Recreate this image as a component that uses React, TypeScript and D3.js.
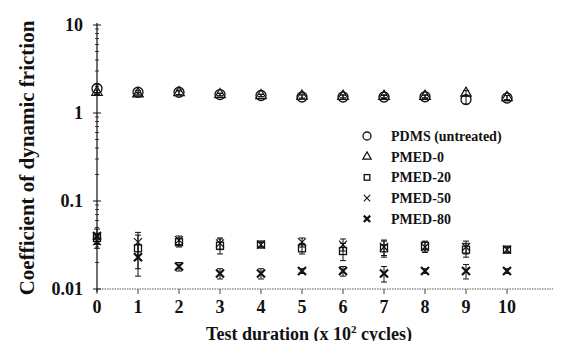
import React, { useEffect, useRef } from 'react'
import * as d3 from 'd3'

// test duration (x 10^2 cycles)
const cycles = [0, 1, 2, 3, 4, 5, 6, 7, 8, 9, 10]
const seriesNames = ['PDMS (untreated)', 'PMED-0', 'PMED-20', 'PMED-50', 'PMED-80']
const pdms = [1.9, 1.72, 1.72, 1.62, 1.58, 1.52, 1.52, 1.52, 1.53, 1.42, 1.48]
const pmed0 = [1.72, 1.65, 1.7, 1.62, 1.58, 1.56, 1.55, 1.55, 1.55, 1.68, 1.5]
const pmed20 = [0.038, 0.029, 0.034, 0.031, 0.032, 0.029, 0.027, 0.029, 0.031, 0.028, 0.028]
const pmed50 = [0.035, 0.034, 0.036, 0.033, 0.032, 0.034, 0.032, 0.03, 0.03, 0.03, 0.028]
const pmed80 = [0.04, 0.023, 0.018, 0.015, 0.015, 0.016, 0.016, 0.015, 0.016, 0.016, 0.016]
// error bar half-widths (same units)
const pdmsErr = [0.2, 0.08, 0.1, 0.06, 0.05, 0.08, 0.08, 0.06, 0.06, 0.15, 0.1]
const pmed0Err = [0.1, 0.06, 0.08, 0.05, 0.05, 0.08, 0.06, 0.06, 0.06, 0.12, 0.08]
const pmed20Err = [0.005, 0.012, 0.004, 0.006, 0.002, 0.004, 0.006, 0.006, 0.004, 0.005, 0.002]
const pmed50Err = [0.006, 0.01, 0.004, 0.005, 0.002, 0.004, 0.005, 0.006, 0.004, 0.005, 0.002]
const pmed80Err = [0.008, 0.009, 0.002, 0.002, 0.002, 0.001, 0.002, 0.003, 0.001, 0.003, 0.001]
const yTicks = [0.01, 0.1, 1, 10]

const FONT = '"Liberation Serif", "Times New Roman", serif'

const App = () => {
    const ref = useRef<SVGSVGElement>(null)

    useEffect(() => {
        draw()
    })

    const draw = () => {
        const width = 561
        const height = 349
        const left = 97
        const top = 25
        const plotRight = 507
        const bottom = 289

        const svg = d3.select(ref.current)
        svg.selectAll('*').remove()
        svg.attr('width', width).attr('height', height)

        const x = d3.scaleLinear().domain([0, 10]).range([left, plotRight])
        const y = d3.scaleLog().domain([0.01, 10]).range([bottom, top])

        const ink = '#111'

        // x axis: dotted baseline across the whole width
        svg.append('line')
            .attr('x1', left).attr('x2', width)
            .attr('y1', bottom).attr('y2', bottom)
            .attr('stroke', '#555').attr('stroke-width', 1)
            .attr('stroke-dasharray', '1.5,1')
        svg.selectAll('.xtick')
            .data(cycles)
            .enter()
            .append('line')
            .attr('x1', (d) => x(d)).attr('x2', (d) => x(d))
            .attr('y1', bottom).attr('y2', bottom + 5)
            .attr('stroke', '#444')
        svg.selectAll('.xlabel')
            .data(cycles)
            .enter()
            .append('text')
            .attr('x', (d) => x(d))
            .attr('y', 313)
            .attr('text-anchor', 'middle')
            .attr('font-family', FONT)
            .attr('font-weight', 'bold')
            .attr('font-size', 18)
            .attr('fill', ink)
            .text((d) => String(d))

        // y axis with log minor ticks
        svg.append('line')
            .attr('x1', left).attr('x2', left)
            .attr('y1', top - 2).attr('y2', bottom + 3)
            .attr('stroke', ink).attr('stroke-width', 1.2)
        const minor: number[] = []
        for (let p = -2; p < 1; p++) {
            for (let m = 2; m <= 9; m++) minor.push(m * Math.pow(10, p))
        }
        svg.selectAll('.yminor')
            .data(minor)
            .enter()
            .append('line')
            .attr('x1', left - 2).attr('x2', left + 2)
            .attr('y1', (d) => y(d)).attr('y2', (d) => y(d))
            .attr('stroke', ink).attr('stroke-width', 0.8)
        svg.selectAll('.ymajor')
            .data(yTicks)
            .enter()
            .append('line')
            .attr('x1', left - 4).attr('x2', left + 4)
            .attr('y1', (d) => y(d)).attr('y2', (d) => y(d))
            .attr('stroke', ink).attr('stroke-width', 1)
        svg.selectAll('.ylabel')
            .data(yTicks)
            .enter()
            .append('text')
            .attr('x', 83)
            .attr('y', (d) => y(d) + 6)
            .attr('text-anchor', 'end')
            .attr('font-family', FONT)
            .attr('font-weight', 'bold')
            .attr('font-size', 18)
            .attr('fill', ink)
            .text((d) => String(d))

        // axis titles
        svg.append('text')
            .attr('transform', `translate(34,158) rotate(-90)`)
            .attr('text-anchor', 'middle')
            .attr('font-family', FONT)
            .attr('font-weight', 'bold')
            .attr('font-size', 21)
            .attr('fill', ink)
            .text('Coefficient of dynamic friction')
        const xt = svg.append('text')
            .attr('x', 309)
            .attr('y', 340)
            .attr('text-anchor', 'middle')
            .attr('font-family', FONT)
            .attr('font-weight', 'bold')
            .attr('font-size', 18)
            .attr('fill', ink)
        xt.append('tspan').text('Test duration (x 10')
        xt.append('tspan').attr('font-size', 11).attr('dy', -7).text('2')
        xt.append('tspan').attr('dy', 7).text(' cycles)')

        // marker drawing
        const marker = (g: d3.Selection<SVGGElement, unknown, null, undefined>, kind: number, s: number) => {
            if (kind === 0) {
                g.append('circle').attr('r', 5 * s).attr('fill', 'none').attr('stroke', ink).attr('stroke-width', 1.3)
            } else if (kind === 1) {
                g.append('path').attr('d', d3.symbol(d3.symbolTriangle, 48 * s * s)()).attr('fill', 'none')
                    .attr('stroke', ink).attr('stroke-width', 1.2)
            } else if (kind === 2) {
                const h = 3.5 * s
                g.append('rect').attr('x', -h).attr('y', -h).attr('width', 2 * h).attr('height', 2 * h)
                    .attr('fill', 'none').attr('stroke', ink).attr('stroke-width', 1.3)
            } else if (kind === 3) {
                const h = 4 * s
                g.append('path').attr('d', `M${-h},${-h}L${h},${h}M${-h},${h}L${h},${-h}`)
                    .attr('stroke', ink).attr('stroke-width', 1.1)
            } else {
                const h = 4 * s
                g.append('path').attr('d', `M${-h},${-h}L${h},${h}M${-h},${h}L${h},${-h}`)
                    .attr('stroke', ink).attr('stroke-width', 2.2)
            }
        }

        const data = [pdms, pmed0, pmed20, pmed50, pmed80]
        const errs = [pdmsErr, pmed0Err, pmed20Err, pmed50Err, pmed80Err]

        data.forEach((vals, si) => {
            const g = svg.append('g')
            vals.forEach((v, i) => {
                const cx = x(cycles[i])
                const e = errs[si][i]
                const y1 = y(v + e)
                const y0 = y(Math.max(v - e, 0.0105))
                g.append('line')
                    .attr('x1', cx).attr('x2', cx).attr('y1', y1).attr('y2', y0)
                    .attr('stroke', ink).attr('stroke-width', 1)
                g.append('line')
                    .attr('x1', cx - 3).attr('x2', cx + 3).attr('y1', y1).attr('y2', y1)
                    .attr('stroke', ink).attr('stroke-width', 1)
                g.append('line')
                    .attr('x1', cx - 3).attr('x2', cx + 3).attr('y1', y0).attr('y2', y0)
                    .attr('stroke', ink).attr('stroke-width', 1)
                const m = g.append('g').attr('transform', `translate(${cx},${y(v)})`)
                marker(m, si, 1)
            })
        })

        // legend
        seriesNames.forEach((name, i) => {
            const ly = 136 + i * 20.7
            const m = svg.append('g').attr('transform', `translate(367,${ly})`)
            marker(m, i, 0.8)
            svg.append('text')
                .attr('x', 391)
                .attr('y', ly + 5)
                .attr('font-family', FONT)
                .attr('font-weight', 'bold')
                .attr('font-size', 14)
                .attr('fill', ink)
                .text(name)
        })
    }

    return <svg ref={ref} style={{ display: 'block', margin: '-8px' }}></svg>
}

export default App
